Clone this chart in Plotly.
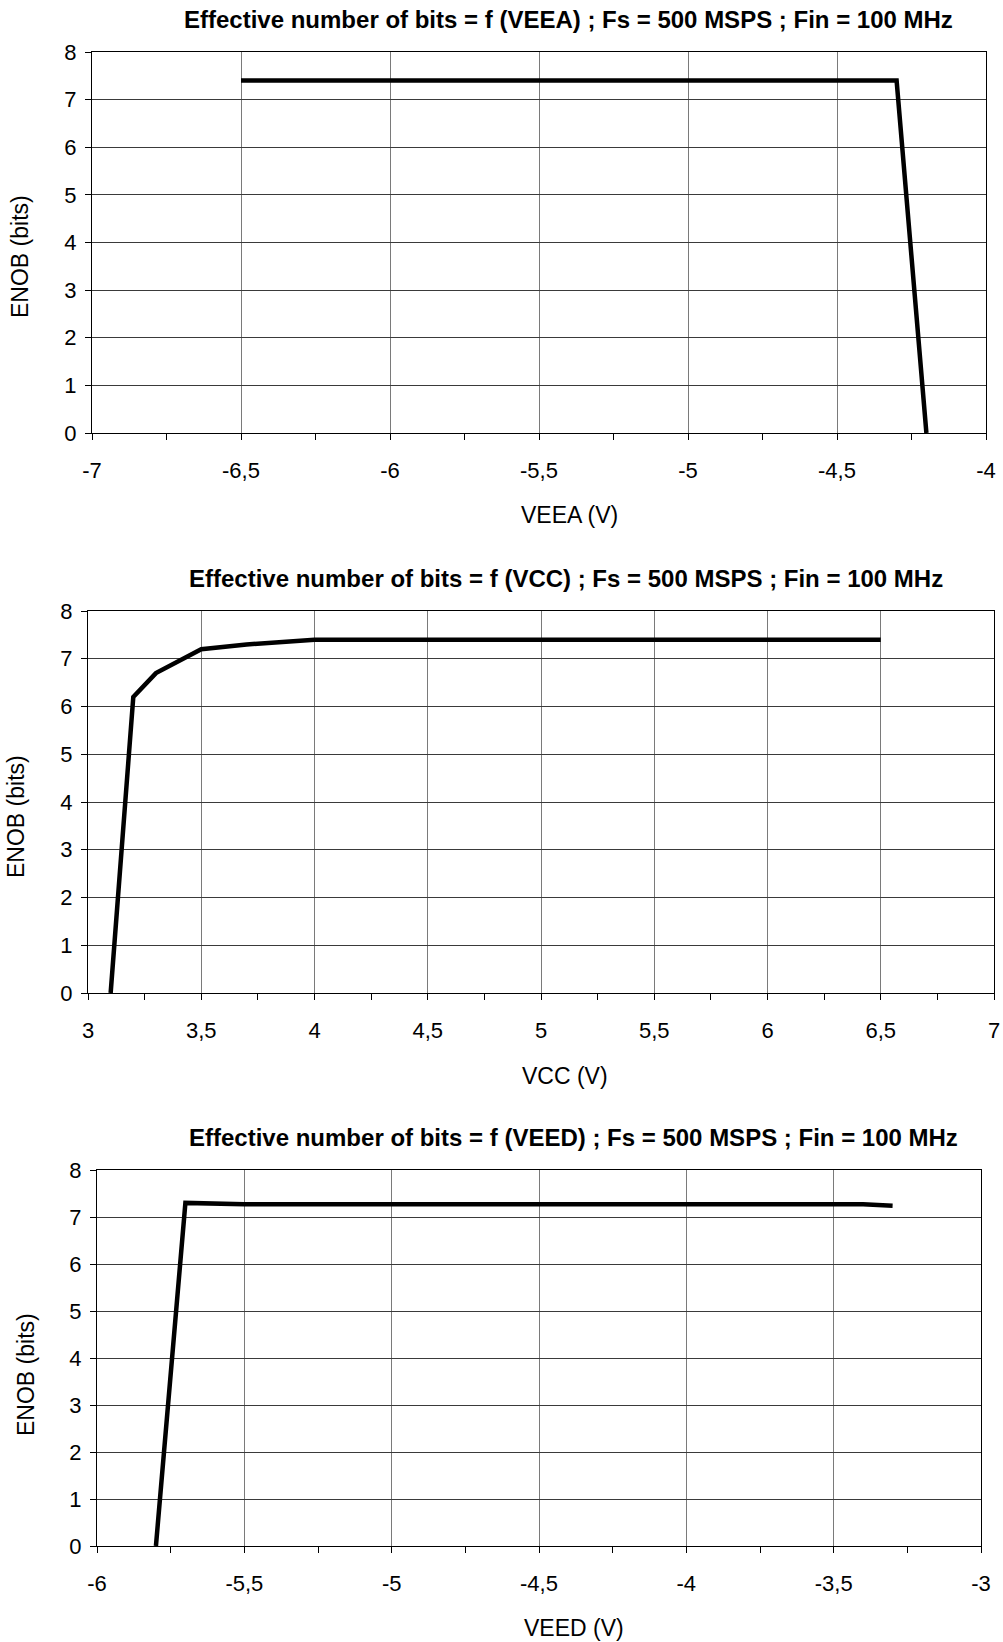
import plotly.graph_objects as go

W, H = 1003, 1642
FONT = "Liberation Sans, Arial, sans-serif"

# ---------------- data ----------------
veea_v = [-6.5, -6.0, -5.5, -5.0, -4.5, -4.3, -4.2]
veea_enob = [7.4, 7.4, 7.4, 7.4, 7.4, 7.4, 0.0]

vcc_v = [3.1, 3.2, 3.3, 3.5, 3.7, 4.0, 4.5, 5.0, 5.5, 6.0, 6.5]
vcc_enob = [0.0, 6.2, 6.7, 7.2, 7.3, 7.4, 7.4, 7.4, 7.4, 7.4, 7.4]

veed_v = [-5.8, -5.7, -5.5, -5.0, -4.5, -4.0, -3.5, -3.4, -3.3]
veed_enob = [0.0, 7.3, 7.27, 7.27, 7.27, 7.27, 7.27, 7.27, 7.24]

veea_ticks = [-7, -6.5, -6, -5.5, -5, -4.5, -4]
veea_labels = ["-7", "-6,5", "-6", "-5,5", "-5", "-4,5", "-4"]
vcc_ticks = [3, 3.5, 4, 4.5, 5, 5.5, 6, 6.5, 7]
vcc_labels = ["3", "3,5", "4", "4,5", "5", "5,5", "6", "6,5", "7"]
veed_ticks = [-6, -5.5, -5, -4.5, -4, -3.5, -3]
veed_labels = ["-6", "-5,5", "-5", "-4,5", "-4", "-3,5", "-3"]
enob_ticks = [0, 1, 2, 3, 4, 5, 6, 7, 8]

titles = [
    "Effective number of bits = f (VEEA) ; Fs = 500 MSPS ; Fin = 100 MHz",
    "Effective number of bits = f (VCC) ; Fs = 500 MSPS ; Fin = 100 MHz",
    "Effective number of bits = f (VEED) ; Fs = 500 MSPS ; Fin = 100 MHz",
]
xtitles = ["VEEA (V)", "VCC (V)", "VEED (V)"]
ytitle = "ENOB (bits)"

# ---------------- layout helpers ----------------
def px(x):
    return x / W

def py(y):
    return 1 - y / H

# plot boxes in pixels: (left, right, top, bottom)
boxes = [(92, 986, 52, 433), (88, 994, 611, 993), (97, 981, 1170, 1546)]
title_pos = [(568, 20), (566, 578), (573, 1137)]
xtitle_pos = [(569, 515), (565, 1076), (574, 1628)]
ytitle_pos = [(20, 257), (16, 817), (26, 1375)]
xranges = [(-7, -4), (3, 7), (-6, -3)]
xticks = [(veea_ticks, veea_labels), (vcc_ticks, vcc_labels), (veed_ticks, veed_labels)]
series = [(veea_v, veea_enob), (vcc_v, vcc_enob), (veed_v, veed_enob)]

fig = go.Figure()
annotations = []
layout = dict(
    template="none",
    width=W, height=H,
    autosize=False,
    margin=dict(l=0, r=0, t=0, b=0, pad=0, autoexpand=False),
    paper_bgcolor="white", plot_bgcolor="white",
    showlegend=False,
    font=dict(family=FONT, color="black"),
)

for i in range(3):
    sfx = "" if i == 0 else str(i + 1)
    l, r, t, b = boxes[i]
    xs, ys = series[i]
    fig.add_trace(go.Scatter(
        x=xs, y=ys, mode="lines",
        line=dict(color="black", width=4.5),
        xaxis="x" + sfx, yaxis="y" + sfx,
        hoverinfo="skip",
    ))
    tv, tt = xticks[i]
    layout["xaxis" + sfx] = dict(
        domain=[px(l), px(r)], anchor="y" + sfx,
        range=list(xranges[i]), automargin=False,
        tickmode="array", tickvals=tv, ticktext=tt,
        ticks="outside", ticklen=6, tickcolor="black", tickwidth=1,
        minor=dict(dtick=0.25, ticks="outside", ticklen=6, tickcolor="black", showgrid=False),
        showgrid=True, gridcolor="#7a7a7a", gridwidth=1,
        showline=True, linecolor="black", linewidth=1, mirror=True,
        zeroline=False,
        tickfont=dict(family=FONT, size=22, color="black"),
        ticklabelstandoff=12,
        fixedrange=True,
    )
    layout["yaxis" + sfx] = dict(
        domain=[py(b), py(t)], anchor="x" + sfx,
        range=[0, 8], automargin=False,
        tickmode="array", tickvals=enob_ticks,
        ticks="outside", ticklen=6, tickcolor="black", tickwidth=1,
        showgrid=True, gridcolor="#3a3a3a", gridwidth=1,
        showline=True, linecolor="black", linewidth=1, mirror=True,
        zeroline=False,
        tickfont=dict(family=FONT, size=22, color="black"),
        ticklabelstandoff=4,
        fixedrange=True,
    )
    tx, ty = title_pos[i]
    annotations.append(dict(
        text="<b>" + titles[i] + "</b>", xref="paper", yref="paper",
        x=px(tx), y=py(ty), xanchor="center", yanchor="middle",
        showarrow=False, font=dict(family=FONT, size=24, color="black"),
    ))
    ax, ay = xtitle_pos[i]
    annotations.append(dict(
        text=xtitles[i], xref="paper", yref="paper",
        x=px(ax), y=py(ay), xanchor="center", yanchor="middle",
        showarrow=False, font=dict(family=FONT, size=23, color="black"),
    ))
    yx, yy = ytitle_pos[i]
    annotations.append(dict(
        text=ytitle, xref="paper", yref="paper", textangle=-90,
        x=px(yx), y=py(yy), xanchor="center", yanchor="middle",
        showarrow=False, font=dict(family=FONT, size=23, color="black"),
    ))

layout["annotations"] = annotations
fig.update_layout(**layout)
fig.write_html(
    "out.html",
    config=dict(displayModeBar=False),
    post_script="document.body.style.margin='0';document.body.style.overflow='hidden';",
)
